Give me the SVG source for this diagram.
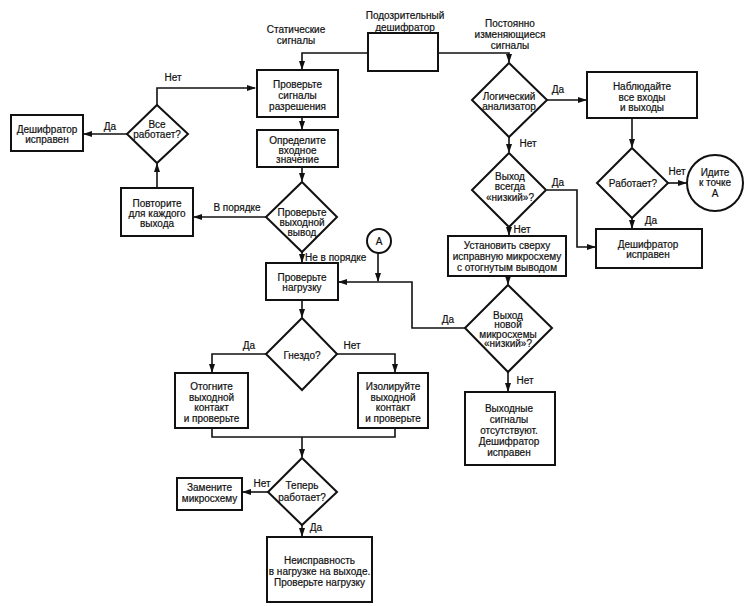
<svg xmlns="http://www.w3.org/2000/svg" width="750" height="606" viewBox="0 0 750 606">
<style>
text{font-family:"Liberation Sans",Arial,sans-serif;font-size:10px;fill:#111;stroke:#111;stroke-width:0.2;text-anchor:middle}
.l{text-anchor:start}
.b{fill:#fff;stroke:#111;stroke-width:2}
.c{fill:none;stroke:#111;stroke-width:1.6}
.a{marker-end:url(#ah)}
</style>
<defs>
<marker id="ah" markerUnits="userSpaceOnUse" markerWidth="9" markerHeight="6" refX="8" refY="3" orient="auto">
<path d="M0,0 L9,3 L0,6 z" fill="#111"/>
</marker>
</defs>
<rect width="750" height="606" fill="#fff"/>
<g id="connectors">
<polyline class="c a" points="368,53 302,53 302,69"/>
<polyline class="c a" points="438,53 509,53 509,62"/>
<polyline class="c a" points="547,100 586,100"/>
<polyline class="c a" points="509,137 509,152"/>
<polyline class="c a" points="632,118 632,147"/>
<polyline class="c a" points="668,183 686,183"/>
<polyline class="c a" points="632,218 632,228"/>
<polyline class="c a" points="547,190 577,190 577,247 595,247"/>
<polyline class="c a" points="509,227 509,235"/>
<polyline class="c a" points="508,276 508,284"/>
<polyline class="c a" points="465,328 412,328 412,282 339,282"/>
<polyline class="c a" points="508,372 508,391"/>
<polyline class="c a" points="378,253 378,281"/>
<polyline class="c a" points="302,117 302,129"/>
<polyline class="c a" points="302,167 302,181"/>
<polyline class="c a" points="266,217 194,217"/>
<polyline class="c a" points="302,252 302,262"/>
<polyline class="c a" points="157,188 157,164"/>
<polyline class="c a" points="157,105 157,88 255,88"/>
<polyline class="c a" points="127,134 84,134"/>
<polyline class="c a" points="302,300 302,317"/>
<polyline class="c a" points="266,354 212,354 212,372"/>
<polyline class="c a" points="337,354 395,354 395,372"/>
<polyline class="c" points="212,428 212,437 395,437 395,428"/>
<polyline class="c a" points="302,437 302,457"/>
<polyline class="c a" points="268,492 243,492"/>
<polyline class="c a" points="302,525 302,536"/>
<text x="296" y="32.5">Статические</text>
<text x="296" y="43.5">сигналы</text>
<text x="510" y="26.5">Постоянно</text>
<text x="510" y="37.5">изменяющиеся</text>
<text x="510" y="48.5">сигналы</text>
<text x="173" y="80.5">Нет</text>
<text x="110" y="129.5">Да</text>
<text x="558" y="92.5">Да</text>
<text x="528" y="146.5">Нет</text>
<text x="558" y="185.5">Да</text>
<text x="522" y="232.5">Нет</text>
<text x="677" y="174.5">Нет</text>
<text x="651" y="223.5">Да</text>
<text x="237" y="210.5">В порядке</text>
<text class="l" x="305" y="260.5">Не в порядке</text>
<text x="448" y="322.5">Да</text>
<text x="525" y="383.5">Нет</text>
<text x="249" y="348.5">Да</text>
<text x="352" y="348.5">Нет</text>
<text x="262" y="486.5">Нет</text>
<text x="316" y="530.5">Да</text>
</g>
<g id="suspect">
<rect class="b" x="368" y="33" width="70" height="38"/>
<text x="405" y="18.5">Подозрительный</text>
<text x="405" y="30.5">дешифратор</text>
</g>
<g id="enable">
<rect class="b" x="257" y="70" width="81" height="47"/>
<text x="297.5" y="87.5">Проверьте</text>
<text x="297.5" y="98.5">сигналы</text>
<text x="297.5" y="109.5">разрешения</text>
</g>
<g id="ok-left">
<rect class="b" x="11" y="115" width="72" height="36"/>
<text x="47" y="132.5">Дешифратор</text>
<text x="47" y="143">исправен</text>
</g>
<g id="all-work">
<polygon class="b" points="157,105 188,134 157,163 127,134"/>
<text x="157" y="127.5">Все</text>
<text x="157" y="137.5">работает?</text>
</g>
<g id="input">
<rect class="b" x="257" y="130" width="81" height="37"/>
<text x="297.5" y="143.5">Определите</text>
<text x="297.5" y="153.5">входное</text>
<text x="297.5" y="163">значение</text>
</g>
<g id="repeat">
<rect class="b" x="121" y="188" width="72" height="48"/>
<text x="157" y="206.5">Повторите</text>
<text x="157" y="216.5">для каждого</text>
<text x="157" y="226.5">выхода</text>
</g>
<g id="check-output">
<polygon class="b" points="302,182 337,217 302,252 266,217"/>
<text x="302" y="215.5">Проверьте</text>
<text x="302" y="225.5">выходной</text>
<text x="302" y="235.5">вывод</text>
</g>
<g id="point-a">
<circle class="b" cx="379" cy="241" r="12"/>
<text x="379" y="244.5">А</text>
</g>
<g id="check-load">
<rect class="b" x="266" y="263" width="72" height="37"/>
<text x="302" y="280.5">Проверьте</text>
<text x="302" y="290.5">нагрузку</text>
</g>
<g id="logic">
<polygon class="b" points="509,63 547,100 509,137 472,100"/>
<text x="509" y="99.5">Логический</text>
<text x="509" y="109.5">анализатор</text>
</g>
<g id="observe">
<rect class="b" x="587" y="72" width="110" height="46"/>
<text x="642" y="89.5">Наблюдайте</text>
<text x="642" y="100.5">все входы</text>
<text x="642" y="110.5">и выходы</text>
</g>
<g id="works">
<polygon class="b" points="632,148 668,183 632,218 597,183"/>
<text x="633" y="186.5">Работает?</text>
</g>
<g id="goto-a">
<circle class="b" cx="715" cy="183" r="28"/>
<text x="715" y="175.5">Идите</text>
<text x="715" y="185.5">к точке</text>
<text x="715" y="196.5">А</text>
</g>
<g id="always-low">
<polygon class="b" points="509,153 546,190 509,227 472,190"/>
<text x="510" y="179.5">Выход</text>
<text x="510" y="189.5">всегда</text>
<text x="510" y="200.5">«низкий»?</text>
</g>
<g id="ok-right">
<rect class="b" x="596" y="229" width="106" height="39"/>
<text x="648" y="247.5">Дешифратор</text>
<text x="648" y="257.5">исправен</text>
</g>
<g id="piggyback">
<rect class="b" x="448" y="236" width="118" height="40"/>
<text x="507" y="248.5">Установить сверху</text>
<text x="507" y="259.5">исправную микросхему</text>
<text x="507" y="270.5">с отогнутым выводом</text>
</g>
<g id="new-low">
<polygon class="b" points="508,285 552,328 508,372 465,328"/>
<text x="508" y="318.5">Выход</text>
<text x="508" y="328">новой</text>
<text x="508" y="337.5">микросхемы</text>
<text x="508" y="347">«низкий»?</text>
</g>
<g id="no-output">
<rect class="b" x="465" y="392" width="90" height="73"/>
<text x="509" y="411.5">Выходные</text>
<text x="509" y="422.5">сигналы</text>
<text x="509" y="433.5">отсутствуют.</text>
<text x="509" y="444.5">Дешифратор</text>
<text x="509" y="455.5">исправен</text>
</g>
<g id="socket">
<polygon class="b" points="302,318 337,354 302,390 266,354"/>
<text x="302" y="358.5">Гнездо?</text>
</g>
<g id="bend">
<rect class="b" x="175" y="373" width="73" height="55"/>
<text x="211.5" y="389.5">Отогните</text>
<text x="211.5" y="400.5">выходной</text>
<text x="211.5" y="410.5">контакт</text>
<text x="211.5" y="421.5">и проверьте</text>
</g>
<g id="isolate">
<rect class="b" x="358" y="373" width="70" height="55"/>
<text x="393" y="389.5">Изолируйте</text>
<text x="393" y="400.5">выходной</text>
<text x="393" y="410.5">контакт</text>
<text x="393" y="421.5">и проверьте</text>
</g>
<g id="now-works">
<polygon class="b" points="302,458 337,492 302,525 268,492"/>
<text x="302" y="488.5">Теперь</text>
<text x="302" y="500.5">работает?</text>
</g>
<g id="replace">
<rect class="b" x="177" y="478" width="65" height="32"/>
<text x="209.5" y="490.5">Замените</text>
<text x="209.5" y="501.5">микросхему</text>
</g>
<g id="load-fault">
<rect class="b" x="267" y="537" width="105" height="65"/>
<text x="319.5" y="563.5">Неисправность</text>
<text x="319.5" y="574.5">в нагрузке на выходе.</text>
<text x="319.5" y="585.5">Проверьте нагрузку</text>
</g>
</svg>
